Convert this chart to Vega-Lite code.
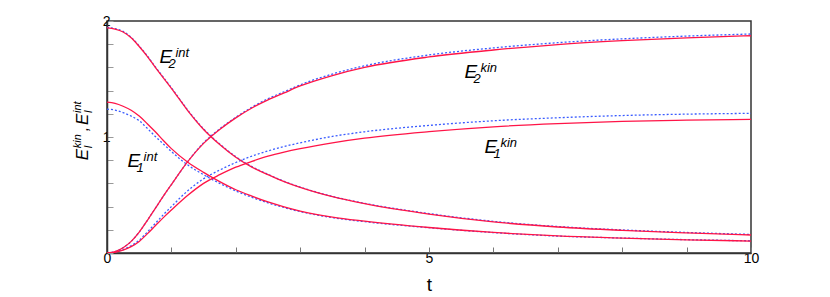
{
  "$schema": "https://vega.github.io/schema/vega-lite/v6.json",
  "width": 644,
  "height": 232,
  "autosize": "none",
  "padding": {"left": 107, "top": 21, "right": 79, "bottom": 44},
  "background": "white",
  "config": {
    "view": {"stroke": "#333", "strokeWidth": 1.5},
    "font": "Liberation Sans"
  },
  "datasets": {
    "curves": [
      {"t": 0, "r_E2int": 1.94, "b_E2int": 1.945, "r_E2kin": 0, "b_E2kin": 0, "r_E1int": 1.30, "b_E1int": 1.24, "r_E1kin": 0, "b_E1kin": 0},
      {"t": 0.125, "r_E2int": 1.93, "b_E2int": 1.935, "r_E2kin": 0.012, "b_E2kin": 0.012, "r_E1int": 1.29, "b_E1int": 1.232, "r_E1kin": 0.006, "b_E1kin": 0.008},
      {"t": 0.25, "r_E2int": 1.905, "b_E2int": 1.91, "r_E2kin": 0.045, "b_E2kin": 0.045, "r_E1int": 1.265, "b_E1int": 1.21, "r_E1kin": 0.025, "b_E1kin": 0.03},
      {"t": 0.375, "r_E2int": 1.855, "b_E2int": 1.86, "r_E2kin": 0.10, "b_E2kin": 0.10, "r_E1int": 1.23, "b_E1int": 1.18, "r_E1kin": 0.055, "b_E1kin": 0.063},
      {"t": 0.5, "r_E2int": 1.78, "b_E2int": 1.785, "r_E2kin": 0.18, "b_E2kin": 0.18, "r_E1int": 1.18, "b_E1int": 1.14, "r_E1kin": 0.10, "b_E1kin": 0.11},
      {"t": 0.625, "r_E2int": 1.695, "b_E2int": 1.70, "r_E2kin": 0.28, "b_E2kin": 0.28, "r_E1int": 1.115, "b_E1int": 1.075, "r_E1kin": 0.165, "b_E1kin": 0.18},
      {"t": 0.75, "r_E2int": 1.60, "b_E2int": 1.605, "r_E2kin": 0.385, "b_E2kin": 0.385, "r_E1int": 1.045, "b_E1int": 1.005, "r_E1kin": 0.235, "b_E1kin": 0.255},
      {"t": 0.875, "r_E2int": 1.51, "b_E2int": 1.515, "r_E2kin": 0.49, "b_E2kin": 0.49, "r_E1int": 0.97, "b_E1int": 0.94, "r_E1kin": 0.305, "b_E1kin": 0.33},
      {"t": 1.0, "r_E2int": 1.42, "b_E2int": 1.425, "r_E2kin": 0.59, "b_E2kin": 0.59, "r_E1int": 0.90, "b_E1int": 0.875, "r_E1kin": 0.37, "b_E1kin": 0.40},
      {"t": 1.25, "r_E2int": 1.23, "b_E2int": 1.235, "r_E2kin": 0.785, "b_E2kin": 0.785, "r_E1int": 0.785, "b_E1int": 0.76, "r_E1kin": 0.495, "b_E1kin": 0.535},
      {"t": 1.5, "r_E2int": 1.065, "b_E2int": 1.07, "r_E2kin": 0.945, "b_E2kin": 0.95, "r_E1int": 0.695, "b_E1int": 0.675, "r_E1kin": 0.60, "b_E1kin": 0.64},
      {"t": 1.75, "r_E2int": 0.935, "b_E2int": 0.94, "r_E2kin": 1.065, "b_E2kin": 1.07, "r_E1int": 0.615, "b_E1int": 0.60, "r_E1kin": 0.675, "b_E1kin": 0.715},
      {"t": 2.0, "r_E2int": 0.825, "b_E2int": 0.83, "r_E2kin": 1.165, "b_E2kin": 1.17, "r_E1int": 0.545, "b_E1int": 0.535, "r_E1kin": 0.74, "b_E1kin": 0.78},
      {"t": 2.25, "r_E2int": 0.74, "b_E2int": 0.745, "r_E2kin": 1.25, "b_E2kin": 1.257, "r_E1int": 0.49, "b_E1int": 0.48, "r_E1kin": 0.79, "b_E1kin": 0.835},
      {"t": 2.5, "r_E2int": 0.675, "b_E2int": 0.678, "r_E2kin": 1.32, "b_E2kin": 1.33, "r_E1int": 0.44, "b_E1int": 0.432, "r_E1kin": 0.835, "b_E1kin": 0.88},
      {"t": 2.75, "r_E2int": 0.615, "b_E2int": 0.618, "r_E2kin": 1.38, "b_E2kin": 1.39, "r_E1int": 0.398, "b_E1int": 0.392, "r_E1kin": 0.87, "b_E1kin": 0.918},
      {"t": 3.0, "r_E2int": 0.565, "b_E2int": 0.568, "r_E2kin": 1.44, "b_E2kin": 1.45, "r_E1int": 0.362, "b_E1int": 0.357, "r_E1kin": 0.90, "b_E1kin": 0.95},
      {"t": 3.5, "r_E2int": 0.485, "b_E2int": 0.488, "r_E2kin": 1.53, "b_E2kin": 1.543, "r_E1int": 0.31, "b_E1int": 0.305, "r_E1kin": 0.95, "b_E1kin": 1.005},
      {"t": 4.0, "r_E2int": 0.425, "b_E2int": 0.428, "r_E2kin": 1.60, "b_E2kin": 1.614, "r_E1int": 0.275, "b_E1int": 0.27, "r_E1kin": 0.99, "b_E1kin": 1.045},
      {"t": 5.0, "r_E2int": 0.335, "b_E2int": 0.34, "r_E2kin": 1.69, "b_E2kin": 1.707, "r_E1int": 0.22, "b_E1int": 0.218, "r_E1kin": 1.046, "b_E1kin": 1.10},
      {"t": 6.0, "r_E2int": 0.268, "b_E2int": 0.273, "r_E2kin": 1.75, "b_E2kin": 1.768, "r_E1int": 0.177, "b_E1int": 0.176, "r_E1kin": 1.088, "b_E1kin": 1.14},
      {"t": 7.0, "r_E2int": 0.224, "b_E2int": 0.228, "r_E2kin": 1.797, "b_E2kin": 1.813, "r_E1int": 0.147, "b_E1int": 0.146, "r_E1kin": 1.115, "b_E1kin": 1.166},
      {"t": 8.0, "r_E2int": 0.195, "b_E2int": 0.199, "r_E2kin": 1.83, "b_E2kin": 1.846, "r_E1int": 0.129, "b_E1int": 0.129, "r_E1kin": 1.134, "b_E1kin": 1.185},
      {"t": 9.0, "r_E2int": 0.173, "b_E2int": 0.177, "r_E2kin": 1.855, "b_E2kin": 1.87, "r_E1int": 0.114, "b_E1int": 0.115, "r_E1kin": 1.145, "b_E1kin": 1.197},
      {"t": 10.0, "r_E2int": 0.155, "b_E2int": 0.16, "r_E2kin": 1.873, "b_E2kin": 1.888, "r_E1int": 0.103, "b_E1int": 0.105, "r_E1kin": 1.152, "b_E1kin": 1.204}
    ],
    "labels": [
      {"t": 0.815, "value": 1.64, "base": "E", "sub": "2", "sup": "int"},
      {"t": 0.32, "value": 0.74, "base": "E", "sub": "1", "sup": "int"},
      {"t": 5.55, "value": 1.51, "base": "E", "sub": "2", "sup": "kin"},
      {"t": 5.86, "value": 0.862, "base": "E", "sub": "1", "sup": "kin"}
    ],
    "ytitle": [
      {"t": -0.3, "value": 0.80, "base": "E", "sub": "l", "sup": "kin", "sep": ","},
      {"t": -0.3, "value": 1.103, "base": "E", "sub": "l", "sup": "int", "sep": ""}
    ]
  },
  "encoding": {
    "x": {
      "field": "t", "type": "quantitative",
      "scale": {"domain": [0, 10], "nice": false},
      "axis": {
        "values": [0, 1, 2, 3, 4, 5, 6, 7, 8, 9, 10],
        "labelExpr": "datum.value % 5 === 0 ? datum.label : ''",
        "grid": false, "tickSize": -6, "tickColor": "#777", "tickWidth": 1,
        "domainColor": "#333", "domainWidth": 1.5,
        "labelFontSize": 14, "labelColor": "#000", "labelPadding": 4, "labelFlush": false,
        "title": "t", "titleFontSize": 19, "titleFontWeight": "normal", "titleColor": "#000", "titlePadding": 10
      }
    },
    "y": {
      "field": "value", "type": "quantitative",
      "scale": {"domain": [0, 2], "nice": false},
      "axis": {
        "values": [0, 0.2, 0.4, 0.6, 0.8, 1, 1.2, 1.4, 1.6, 1.8, 2],
        "labelExpr": "datum.value == 1 ? '1' : datum.value == 2 ? '2' : ''",
        "grid": false, "tickSize": -6, "tickColor": "#999", "tickWidth": 1,
        "domainColor": "#333", "domainWidth": 1.5,
        "labelFontSize": 14, "labelColor": "#000", "labelPadding": 3, "labelFlush": false,
        "title": null
      }
    }
  },
  "layer": [
    {
      "data": {"name": "curves"},
      "transform": [{"fold": ["b_E1int", "b_E1kin", "b_E2int", "b_E2kin"], "as": ["series", "value"]}],
      "mark": {"type": "line", "interpolate": "monotone", "color": "#3a5cff", "strokeWidth": 1.3, "strokeDash": [2, 2], "clip": true},
      "encoding": {"detail": {"field": "series"}}
    },
    {
      "data": {"name": "curves"},
      "transform": [{"fold": ["r_E1int", "r_E1kin", "r_E2int", "r_E2kin"], "as": ["series", "value"]}],
      "mark": {"type": "line", "interpolate": "monotone", "color": "#ff1447", "strokeWidth": 1.3, "clip": true},
      "encoding": {"detail": {"field": "series"}}
    },
    {
      "data": {"name": "labels"},
      "mark": {"type": "text", "align": "left", "baseline": "alphabetic", "fontSize": 19, "fontStyle": "italic", "color": "#000"},
      "encoding": {"text": {"field": "base"}}
    },
    {
      "data": {"name": "labels"},
      "mark": {"type": "text", "align": "left", "baseline": "alphabetic", "fontSize": 13, "fontStyle": "italic", "color": "#000", "dx": 9, "dy": 5},
      "encoding": {"text": {"field": "sub"}}
    },
    {
      "data": {"name": "labels"},
      "mark": {"type": "text", "align": "left", "baseline": "alphabetic", "fontSize": 13, "fontStyle": "italic", "color": "#000", "dx": 16, "dy": -6},
      "encoding": {"text": {"field": "sup"}}
    },
    {
      "data": {"name": "ytitle"},
      "mark": {"type": "text", "align": "left", "baseline": "alphabetic", "angle": 270, "fontSize": 17, "fontStyle": "italic", "color": "#000"},
      "encoding": {"text": {"field": "base"}}
    },
    {
      "data": {"name": "ytitle"},
      "mark": {"type": "text", "align": "left", "baseline": "alphabetic", "angle": 270, "fontSize": 11, "fontStyle": "italic", "color": "#000", "dx": 12, "dy": 4},
      "encoding": {"text": {"field": "sub"}}
    },
    {
      "data": {"name": "ytitle"},
      "mark": {"type": "text", "align": "left", "baseline": "alphabetic", "angle": 270, "fontSize": 11, "fontStyle": "italic", "color": "#000", "dx": 12, "dy": -7},
      "encoding": {"text": {"field": "sup"}}
    },
    {
      "data": {"name": "ytitle"},
      "mark": {"type": "text", "align": "left", "baseline": "alphabetic", "angle": 270, "fontSize": 16, "fontStyle": "italic", "color": "#000", "dx": 29},
      "encoding": {"text": {"field": "sep"}}
    }
  ]
}
